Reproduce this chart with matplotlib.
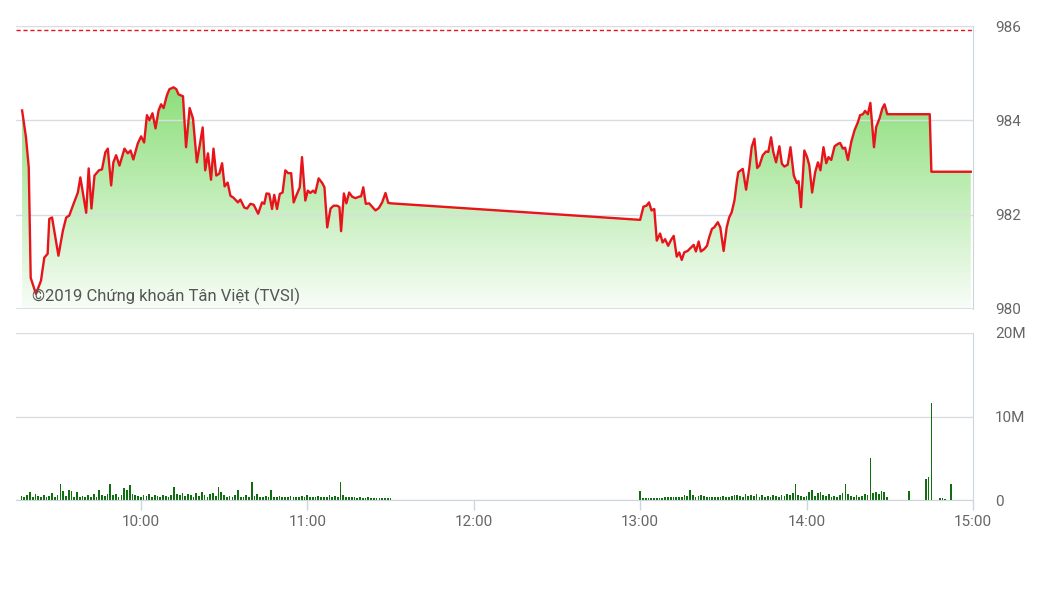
import numpy as np
import matplotlib
matplotlib.use('Agg')
import matplotlib.pyplot as plt
from matplotlib.colors import LinearSegmentedColormap
from matplotlib.patches import PathPatch

plt.rcParams['font.family'] = ['Roboto', 'DejaVu Sans']

# gia tham chieu
ref_price = 985.91

# phien sang: phut tinh tu 9:00
am_t = [17.2, 18.6, 19.6, 20.3, 22.2, 24.0, 25.2, 26.4, 27.0, 28.0, 30.3, 31.9, 33.1, 34.2,
        35.5, 37.3, 38.2, 40.3, 41.2, 42.2, 43.3, 44.9, 46.0, 47.2, 48.1, 49.3, 50.1, 51.1,
        52.3, 54.1, 55.3, 56.3, 57.3, 58.9, 60.1, 61.2, 62.2, 63.1, 64.2, 65.3, 66.4, 67.3,
        68.2, 69.4, 70.3, 71.8, 72.8, 73.6, 75.2, 76.3, 77.6, 78.8, 80.2, 82.3, 83.2, 84.2,
        85.3, 86.2, 87.2, 88.3, 89.3, 90.2, 91.3, 92.3, 93.4, 95.0, 95.9, 97.3, 98.3, 99.5,
        100.7, 102.3, 103.7, 104.5, 105.3, 106.3, 107.3, 108.1, 109.1, 110.1, 111.1, 112.1,
        113.1, 114.2, 115.1, 116.3, 117.3, 118.1, 119.3, 120.2, 121.1, 122.1, 122.9, 124.1,
        125.4, 126.2, 127.2, 128.4, 129.5, 130.8, 131.6, 132.2, 133.2, 134.1, 135.1, 136.2,
        137.4, 138.6, 139.4, 140.2, 141.1, 142.3, 143.5, 144.6, 145.8, 147.0, 148.2, 149.2,
        150.2]
am_p = [984.21, 983.64, 983.00, 980.66, 980.32, 980.60, 981.09, 981.17, 981.91, 981.94, 981.13,
        981.66, 981.94, 981.98, 982.19, 982.47, 982.79, 982.04, 982.98, 982.13, 982.83, 982.94,
        982.96, 983.32, 983.40, 982.62, 983.11, 983.26, 983.04, 983.40, 983.30, 983.36, 983.17,
        983.51, 983.66, 983.53, 984.11, 984.00, 984.15, 983.83, 984.21, 984.34, 984.26, 984.53,
        984.66, 984.70, 984.66, 984.55, 984.51, 983.43, 984.26, 984.04, 983.11, 983.85, 982.94,
        983.30, 982.74, 983.40, 982.83, 982.87, 983.09, 982.60, 982.68, 982.40, 982.36, 982.26,
        982.32, 982.15, 982.13, 982.23, 982.21, 982.02, 982.26, 982.23, 982.45, 982.44, 982.12,
        982.42, 982.12, 982.44, 982.47, 982.94, 982.88, 982.88, 982.26, 982.44, 982.58, 983.22,
        982.30, 982.51, 982.46, 982.51, 982.46, 982.77, 982.67, 982.58, 981.73, 982.13, 982.19,
        982.19, 982.16, 981.65, 982.45, 982.24, 982.47, 982.38, 982.35, 982.38, 982.39, 982.58,
        982.23, 982.24, 982.16, 982.09, 982.14, 982.26, 982.46, 982.25, 982.24]

# phien chieu
pm_t = [240.0, 241.2, 242.3, 243.2, 244.1, 245.1, 246.0, 247.2, 248.1, 249.0, 250.1, 251.1,
        252.1, 253.2, 254.1, 255.0, 255.9, 257.1, 258.3, 259.3, 260.1, 261.1, 261.9, 263.1,
        264.1, 264.9, 265.9, 266.7, 268.0, 268.9, 270.1, 271.2, 272.1, 273.0, 274.0, 274.9,
        275.4, 277.0, 278.2, 279.4, 280.2, 281.2, 282.2, 283.0, 284.2, 285.4, 286.2, 287.2,
        288.0, 289.0, 290.2, 291.1, 292.0, 293.2, 294.2, 295.4, 296.5, 297.1, 298.0, 299.2,
        300.2, 301.0, 302.0, 303.1, 304.1, 305.0, 306.1, 307.1, 307.9, 308.9, 310.1, 311.3,
        312.1, 313.1, 313.9, 314.9, 316.1, 317.3, 318.5, 319.3, 320.3, 321.1, 322.1, 323.0,
        324.3, 325.1, 326.3, 327.3, 328.1, 329.1, 344.4, 345.0, 359.2]
pm_p = [981.89, 982.17, 982.19, 982.26, 982.09, 982.12, 981.45, 981.60, 981.41, 981.48, 981.34,
        981.46, 981.55, 981.11, 981.20, 981.04, 981.20, 981.23, 981.30, 981.36, 981.22, 981.43,
        981.22, 981.27, 981.34, 981.52, 981.70, 981.73, 981.84, 981.73, 981.23, 981.73, 981.94,
        982.05, 982.30, 982.72, 982.90, 982.97, 982.53, 983.01, 983.43, 983.61, 982.99, 983.04,
        983.26, 983.34, 983.33, 983.64, 983.33, 983.11, 983.45, 983.08, 983.02, 983.06, 983.43,
        982.83, 982.67, 982.71, 982.16, 983.36, 983.22, 983.04, 982.47, 982.90, 983.11, 982.94,
        983.43, 983.09, 983.22, 983.16, 983.45, 983.50, 983.52, 983.40, 983.42, 983.16, 983.54,
        983.79, 983.96, 984.11, 984.13, 984.20, 984.13, 984.37, 983.43, 983.86, 984.04, 984.25,
        984.34, 984.13, 984.13, 982.91, 982.91]

# khoi luong (trieu cp), moi phut tu 9:17
vol_am = [0.5, 0.3, 0.6, 0.9, 0.4, 0.7, 0.5, 0.3, 0.6, 0.4,
          0.5, 0.8, 0.4, 0.6, 1.9, 1.1, 0.5, 1.2, 1.1, 0.4,
          0.9, 0.3, 0.5, 0.4, 0.6, 0.3, 0.7, 0.4, 1.2, 0.6,
          0.5, 0.7, 1.9, 0.6, 0.7, 0.4, 0.6, 1.4, 1.2, 1.8,
          0.7, 0.6, 0.5, 0.4, 0.6, 0.5, 0.7, 0.4, 0.6, 0.5,
          0.4, 0.6, 0.5, 0.3, 0.6, 1.5, 0.7, 0.6, 0.8, 0.5,
          0.7, 0.6, 0.4, 0.8, 0.5, 0.9, 0.6, 0.4, 0.7, 0.8,
          0.5, 1.6, 0.9, 0.6, 0.4, 0.5, 0.3, 0.6, 1.2, 0.4,
          0.3, 0.6, 0.4, 2.2, 0.5, 0.7, 0.4, 0.3, 0.5, 0.4,
          1.2, 0.4, 0.3, 0.5, 0.4, 0.3, 0.4, 0.5, 0.3, 0.4,
          0.3, 0.5, 0.4, 0.6, 0.3, 0.4, 0.3, 0.5, 0.4, 0.3,
          0.4, 0.6, 0.3, 0.5, 0.4, 2.2, 0.6, 0.3, 0.4, 0.3,
          0.3, 0.2, 0.3, 0.2, 0.2, 0.3, 0.2, 0.2, 0.2, 0.2,
          0.2, 0.2, 0.2, 0.2]
# moi phut tu 13:00
vol_pm = [1.1, 0.2, 0.2, 0.2, 0.2, 0.2, 0.2, 0.2, 0.2, 0.3,
          0.3, 0.3, 0.3, 0.4, 0.3, 0.4, 0.6, 0.5, 1.2, 0.6,
          0.4, 0.5, 0.6, 0.5, 0.4, 0.4, 0.3, 0.4, 0.3, 0.3,
          0.5, 0.4, 0.4, 0.5, 0.6, 0.6, 0.5, 0.4, 0.7, 0.5,
          0.6, 0.5, 0.7, 0.4, 0.6, 0.3, 0.5, 0.4, 0.6, 0.5,
          0.4, 0.6, 0.5, 0.7, 0.6, 0.8, 1.9, 0.6, 0.5, 0.4,
          0.5, 0.9, 1.2, 0.5, 0.8, 1.0, 0.6, 0.5, 0.7, 0.4,
          0.5, 0.4, 0.6, 0.8, 1.9, 0.7, 0.5, 0.4, 0.6, 0.4,
          0.5, 0.7, 0.6, 5.0, 0.8, 1.0, 0.7, 1.1, 0.9, 0.4]
vol_late_t = ["14:37", "14:43", "14:44", "14:45", "14:48", "14:49", "14:50", "14:52"]
vol_late = [1.1, 2.5, 2.8, 11.6, 0.2, 0.2, 0.15, 1.9]

x_labels = ["10:00", "11:00", "12:00", "13:00", "14:00", "15:00"]
price_ticks = [980, 982, 984, 986]
vol_ticks = [0, 10, 20]
vol_labels = ["0", "10M", "20M"]


def to_min(s):
    h, m = s.split(":")
    return (int(h) - 9) * 60 + int(m)


grid_c = '#d9dce1'
axis_c = '#ccd6e0'
text_c = '#666666'
red = '#e8141b'

fig = plt.figure(figsize=(10.48, 5.89), dpi=100)
W, H = 1048, 589
ax1 = fig.add_axes([16 / W, 1 - 309 / H, 957 / W, 283 / H])
ax2 = fig.add_axes([16 / W, 1 - 500 / H, 957 / W, 167 / H])

# gia
t = np.array(am_t + pm_t)
p = np.array(am_p + pm_p)
poly = ax1.fill_between(t, p, 980, color='none', lw=0)
clip = PathPatch(poly.get_paths()[0], transform=ax1.transData, facecolor='none', edgecolor='none')
ax1.add_patch(clip)
cmap = LinearSegmentedColormap.from_list('g', ['#f8fdf7', '#8ade78'])
grad = np.linspace(0, 1, 256).reshape(-1, 1)
im = ax1.imshow(grad, extent=[15, 360, 980, 984.8], origin='lower', aspect='auto',
                cmap=cmap, zorder=1)
im.set_clip_path(clip)
ax1.plot(t, p, color=red, lw=1.7, zorder=3)
ax1.axhline(ref_price, color=red, lw=1, ls=(0, (3, 2)), zorder=2)
ax1.set_xlim(15, 360)
ax1.set_ylim(980, 986)
ax1.set_yticks(price_ticks)
# luoi ve tren vung to mau, duoi duong gia
ax1.yaxis.grid(True, color=grid_c, lw=1, zorder=2)
ax1.set_axisbelow(False)
ax1.axhline(980, color=grid_c, lw=1.2, zorder=2)
ax1.yaxis.tick_right()
ax1.tick_params(axis='y', length=0, pad=16, labelsize=11, labelcolor=text_c)
ax1.set_xticks([])
for s in ['top', 'left', 'bottom']:
    ax1.spines[s].set_visible(False)
ax1.spines['right'].set_color(axis_c)
ax1.text(0.017, 0.045, '©2019 Chứng khoán Tân Việt (TVSI)', transform=ax1.transAxes,
         fontsize=12, color='#555555', va='center', zorder=4)

# khoi luong
vt = [17 + i for i in range(len(vol_am))] + [240 + i for i in range(len(vol_pm))] \
     + [to_min(s) for s in vol_late_t]
vv = vol_am + vol_pm + vol_late
ax2.bar(vt, vv, width=0.62, color='#0f6e0f', zorder=2)
ax2.set_xlim(15, 360)
ax2.set_ylim(0, 20)
ax2.set_yticks(vol_ticks)
ax2.set_yticklabels(vol_labels)
ax2.yaxis.grid(True, color=grid_c, lw=1)
ax2.set_axisbelow(True)
ax2.yaxis.tick_right()
ax2.tick_params(axis='y', length=0, pad=16, labelsize=11, labelcolor=text_c)
ax2.set_xticks([to_min(s) for s in x_labels])
ax2.set_xticklabels(x_labels)
ax2.tick_params(axis='x', length=7, width=1, color=axis_c, pad=4, labelsize=11, labelcolor=text_c)
for s in ['top', 'left']:
    ax2.spines[s].set_visible(False)
ax2.spines['right'].set_color(axis_c)
ax2.spines['bottom'].set_color(axis_c)

fig.savefig('out.png', dpi=100)
